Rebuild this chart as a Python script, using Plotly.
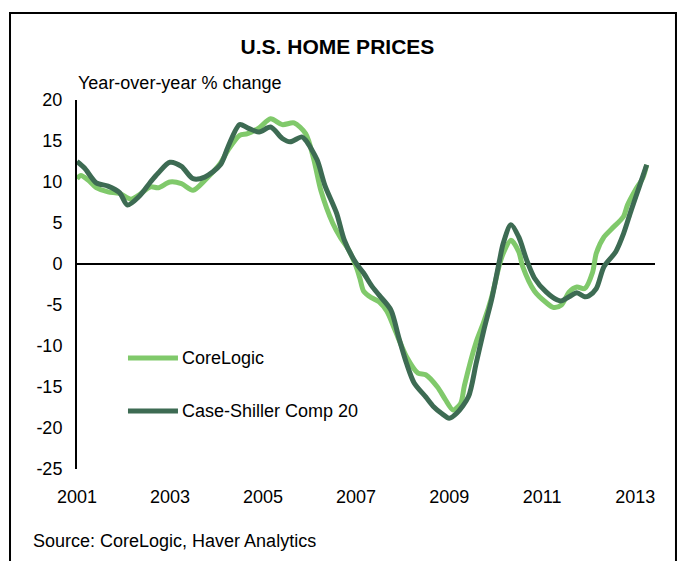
import plotly.graph_objects as go

# ---- Data ----
cl_dates = ["2001-01","2001-02","2001-04","2001-06","2001-09","2001-12","2002-03","2002-05","2002-08","2002-10",
            "2003-01","2003-04","2003-07","2003-10","2004-02","2004-04","2004-07","2004-09","2004-12","2005-03",
            "2005-06","2005-09","2005-12","2006-02","2006-04","2006-07","2006-09","2006-11","2007-01","2007-02",
            "2007-03","2007-05","2007-07","2007-09","2007-11","2008-02","2008-05","2008-07","2008-10","2008-12",
            "2009-02","2009-04","2009-05","2009-08","2009-10","2009-12","2010-02","2010-03","2010-05","2010-07",
            "2010-08","2010-11","2011-02","2011-04","2011-06","2011-08","2011-10","2011-12","2012-02","2012-03",
            "2012-05","2012-07","2012-10","2012-11","2013-01","2013-03","2013-04"]
cl_values = [10.4,10.8,10.2,9.3,8.8,8.6,7.9,8.4,9.4,9.3,
             10.0,9.8,9.0,10.2,12.3,13.9,15.7,15.9,16.6,17.7,
             17.0,17.2,15.9,12.9,8.9,5.0,3.2,1.8,-0.3,-1.8,
             -3.3,-4.1,-4.6,-5.8,-8.0,-11.3,-13.3,-13.5,-15.0,-16.5,
             -17.8,-17.0,-14.8,-9.5,-7.0,-4.0,0.0,1.3,2.9,1.5,
             -0.3,-3.3,-4.7,-5.3,-5.0,-3.4,-2.8,-3.0,-1.0,1.3,
             3.3,4.3,5.8,7.2,9.0,10.5,12.1]

cs_dates = ["2001-01","2001-03","2001-06","2001-09","2001-12","2002-02","2002-05","2002-08","2002-10","2003-01",
            "2003-04","2003-07","2003-10","2004-02","2004-04","2004-07","2004-09","2004-12","2005-03","2005-06",
            "2005-08","2005-11","2005-12","2006-03","2006-05","2006-08","2006-10","2007-01","2007-03","2007-05",
            "2007-07","2007-10","2007-12","2008-02","2008-04","2008-07","2008-09","2008-11","2009-01","2009-03",
            "2009-06","2009-08","2009-10","2009-12","2010-02","2010-03","2010-05","2010-07","2010-09","2010-11",
            "2011-02","2011-05","2011-06","2011-08","2011-10","2011-12","2012-01","2012-03","2012-05","2012-08",
            "2012-10","2012-12","2013-02","2013-04"]
cs_values = [12.5,11.7,9.9,9.5,8.7,7.2,8.2,10.0,11.1,12.4,
             11.9,10.4,10.6,12.1,14.3,17.0,16.6,16.1,16.7,15.3,
             14.9,15.5,15.1,12.7,9.6,6.2,2.9,0.1,-1.1,-2.6,
             -3.8,-5.6,-8.9,-12.1,-14.5,-16.2,-17.4,-18.2,-18.8,-18.2,
             -16.2,-12.1,-8.0,-4.3,0.5,2.5,4.8,3.3,0.5,-1.7,
             -3.4,-4.4,-4.5,-4.0,-3.5,-4.0,-3.9,-3.0,-0.3,1.5,
             3.7,6.6,9.4,12.1]

series_names = ["CoreLogic", "Case-Shiller Comp 20"]
series_colors = ["#80C96B", "#3D6B53"]
x_tick_labels = ["2001", "2003", "2005", "2007", "2009", "2011", "2013"]
y_tick_values = [20, 15, 10, 5, 0, -5, -10, -15, -20, -25]
y_tick_labels = ["20", "15", "10", "5", "0", "-5", "-10", "-15", "-20", "-25"]

FONT = "Arial, Liberation Sans, sans-serif"
FS = 18
LW = 5

fig = go.Figure()
fig.add_trace(go.Scatter(x=cl_dates, y=cl_values, mode="lines", name=series_names[0],
                         line=dict(color=series_colors[0], width=LW, shape="spline", smoothing=0.8)))
fig.add_trace(go.Scatter(x=cs_dates, y=cs_values, mode="lines", name=series_names[1],
                         line=dict(color=series_colors[1], width=LW, shape="spline", smoothing=0.8)))

fig.update_layout(
    width=679, height=561,
    paper_bgcolor="white", plot_bgcolor="white",
    margin=dict(l=77, r=24, t=100, b=92),
    showlegend=False,
    font=dict(family=FONT, size=FS, color="black"),
    title=dict(text="<b>U.S. HOME PRICES</b>", x=0.497, xanchor="center", y=0.916, yanchor="middle",
               font=dict(family=FONT, size=21, color="black")),
)

fig.update_xaxes(
    type="date",
    range=["2001-01-01", "2013-06-05"],
    tickvals=[f"{y}-01-01" for y in x_tick_labels],
    ticktext=x_tick_labels,
    showgrid=False, zeroline=False, showline=False, ticks="",
    ticklabelstandoff=15,
    tickfont=dict(family=FONT, size=FS, color="black"),
)
fig.update_yaxes(
    range=[-25, 20],
    tickvals=y_tick_values,
    ticktext=y_tick_labels,
    showgrid=False, zeroline=True, zerolinecolor="black", zerolinewidth=2,
    showline=True, linecolor="black", linewidth=2, ticks="",
    ticklabelstandoff=9,
    tickfont=dict(family=FONT, size=FS, color="black"),
)

# Legend drawn manually
leg_y = [0.3008, 0.1572]
for name, color, ly in zip(series_names, series_colors, leg_y):
    fig.add_shape(type="line", xref="paper", yref="paper", x0=0.0882, x1=0.1747, y0=ly, y1=ly,
                  line=dict(color=color, width=LW))
    fig.add_annotation(text=name, xref="paper", yref="paper", x=0.1780, y=ly, xanchor="left",
                       yanchor="middle", showarrow=False, font=dict(family=FONT, size=FS, color="black"))

# Axis title
fig.add_annotation(text="Year-over-year % change", xref="paper", yref="paper", x=-0.0017, y=1.046,
                   xanchor="left", yanchor="middle", showarrow=False,
                   font=dict(family=FONT, size=FS, color="black"))
# Source
fig.add_annotation(text="Source: CoreLogic, Haver Analytics", xref="paper", yref="paper", x=-0.0796, y=-0.195,
                   xanchor="left", yanchor="middle", showarrow=False,
                   font=dict(family=FONT, size=FS, color="black"))
# Outer frame
fig.add_shape(type="rect", xref="paper", yref="paper", x0=-0.1159, x1=1.0363, y0=-0.40, y1=1.2358,
              line=dict(color="black", width=2))

fig.write_html("out.html", config={"displayModeBar": False},
               post_script="document.body.style.margin='0';document.body.style.overflow='hidden';")
